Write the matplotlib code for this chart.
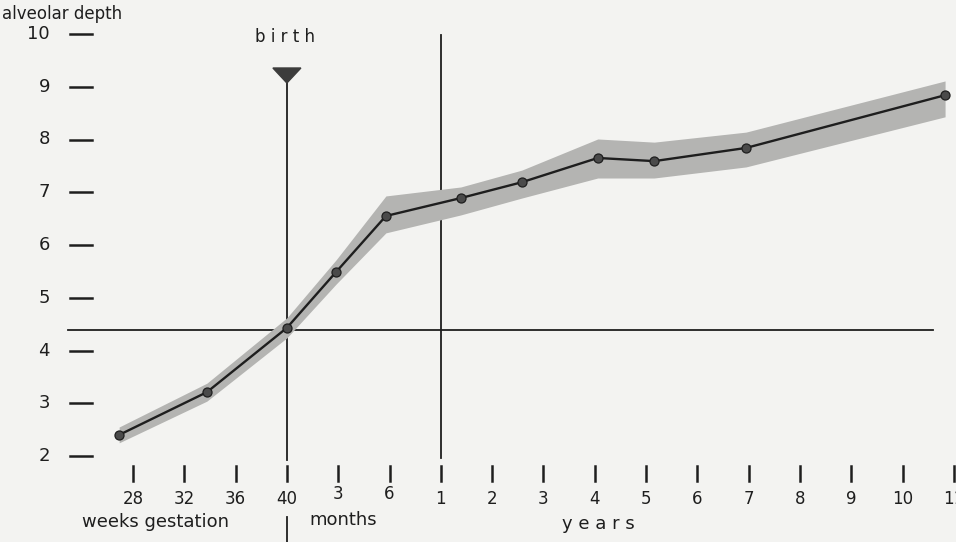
import matplotlib
matplotlib.use("Agg")
import matplotlib.pyplot as plt
import numpy as np

# ---- data ----
x_tick_labels = ['28', '32', '36', '40', '3', '6', '1', '2', '3', '4', '5', '6', '7', '8', '9', '10', '11']
x_tick_pos = list(range(len(x_tick_labels)))
y_ticks = [2, 3, 4, 5, 6, 7, 8, 9, 10]

# point positions on the (index) age axis
age_pos = [-0.27, 1.44, 3.0, 3.96, 4.93, 6.39, 7.58, 9.06, 10.16, 11.95, 15.83]
depth = [2.40, 3.21, 4.43, 5.49, 6.55, 6.89, 7.19, 7.65, 7.59, 7.84, 8.84]
band_upper = [2.55, 3.38, 4.62, 5.72, 6.93, 7.10, 7.42, 8.01, 7.95, 8.14, 9.11]
band_lower = [2.25, 3.04, 4.24, 5.26, 6.23, 6.57, 6.89, 7.27, 7.27, 7.48, 8.43]

birth_pos = 3          # 40 weeks
one_year_pos = 6
ref_level = 4.38       # horizontal reference line

# ---- figure ----
W, H = 956, 542
fig = plt.figure(figsize=(W / 100, H / 100), dpi=100)
bg = '#f3f3f1'
fig.patch.set_facecolor(bg)
ax = fig.add_axes([0, 0, 1, 1])
ax.set_facecolor(bg)
ax.axis('off')

# pixel mapping: x index -> 133 + 51.3*i ; y value -> 456 - 52.75*(v-2)
px0, pdx = 133.0, 51.3
py0, pdy = 456.0, 52.75
ax.set_xlim(-px0 / pdx, (W - px0) / pdx)
ax.set_ylim(2 - (H - py0) / pdy, 2 + py0 / pdy)

def dx(p):
    return p / pdx

def dy(p):
    return p / pdy

ink = '#1e1e1e'
plt.rcParams['font.family'] = ['DejaVu Sans']
fs = 12

# band and curve
ax.fill_between(age_pos, band_lower, band_upper, color='#b4b4b2', lw=0, zorder=2)
ax.plot(age_pos, depth, color=ink, lw=1.7, zorder=3)
ax.plot(age_pos, depth, 'o', color='#4a4a4a', ms=6.5, mec=ink, mew=0.9, zorder=4)

# reference lines
ax.plot([-px0 / pdx + dx(68), -px0 / pdx + dx(933)], [ref_level, ref_level], color=ink, lw=1.3, zorder=1)
ytop = ax.get_ylim()[1]
ax.plot([birth_pos, birth_pos], [ytop - dy(82), 2 - dy(4)], color=ink, lw=1.3, zorder=1)
ax.plot([birth_pos, birth_pos], [2 - dy(61), 2 - dy(90)], color=ink, lw=1.3, zorder=1)
ax.plot([one_year_pos, one_year_pos], [ytop - dy(35), 2 - dy(2)], color=ink, lw=1.3, zorder=1)

# birth triangle marker
tri_x = [birth_pos - dx(14), birth_pos + dx(14), birth_pos]
tri_y = [ytop - dy(68), ytop - dy(68), ytop - dy(83)]
ax.fill(tri_x, tri_y, color='#3c3c3c', zorder=5)
ax.text(birth_pos - dx(2), ytop - dy(37), 'b i r t h', ha='center', va='center', fontsize=fs, color=ink)

# y ticks (dashes) and labels
xl = ax.get_xlim()[0]
for v in y_ticks:
    ax.plot([xl + dx(70), xl + dx(92)], [v, v], color=ink, lw=1.8)
    ax.text(xl + dx(50), v, str(v), ha='right', va='center', fontsize=fs + 1, color=ink)
ax.text(xl + dx(2), ytop - dy(14), 'alveolar depth', ha='left', va='center', fontsize=fs, color=ink)

# x ticks (vertical marks) and labels
for p, lab in zip(x_tick_pos, x_tick_labels):
    ax.plot([p, p], [2 - dy(10), 2 - dy(25)], color=ink, lw=1.8)
    ly = 2 - dy(43) if lab not in ('3', '6') or p > 6 else 2 - dy(38)
    ax.text(p, ly, lab, ha='center', va='center', fontsize=fs, color=ink)

ax.text(xl + dx(82), 2 - dy(66), 'weeks gestation', ha='left', va='center', fontsize=fs + 1, color=ink)
ax.text(xl + dx(309), 2 - dy(64), 'months', ha='left', va='center', fontsize=fs + 1, color=ink)
ax.text(xl + dx(562), 2 - dy(68), 'y e a r s', ha='left', va='center', fontsize=fs + 1, color=ink)

fig.savefig('out.png', dpi=100, facecolor=bg)
